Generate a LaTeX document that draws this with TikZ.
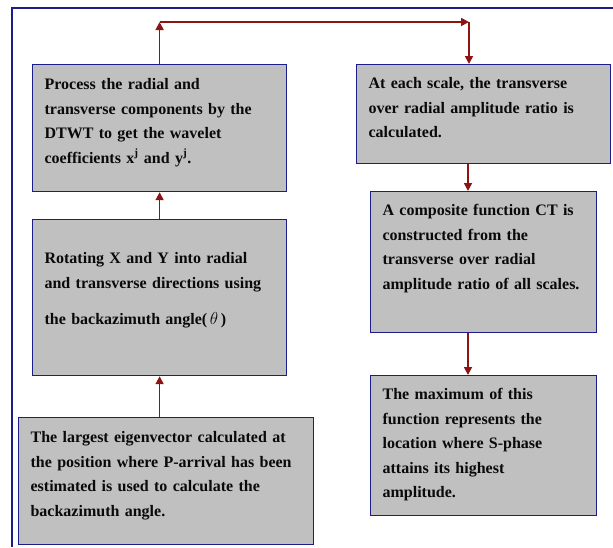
\documentclass[tikz,border=0pt]{standalone}
\usepackage{fontspec}
\setmainfont{Liberation Serif}
\usepackage{xcolor}
\usepackage{tikz}
\usetikzlibrary{arrows.meta,calc}
\definecolor{BoxGray}{HTML}{C0C0C0}
\definecolor{FrameNavy}{HTML}{1C1C8A}
\definecolor{ArrowRed}{HTML}{8E1414}
\definecolor{Ink}{HTML}{0A0A0A}
\tikzset{
  every picture/.style={line width=1.2pt},
  stagebox/.style={
    draw=FrameNavy,
    fill=BoxGray,
    rectangle,
    anchor=north west,
    align=left,
    text=Ink,
    font=\fontsize{16}{24.5}\selectfont\bfseries,
    inner xsep=12pt,
    inner ysep=0pt,
    text height=24pt
  },
  flowarrow/.style={-{Triangle[length=8pt,width=8pt]}, draw=ArrowRed, line width=1.7pt},
  framerule/.style={draw=FrameNavy, line width=1.1pt}
}

\begin{document}
\begin{tikzpicture}[x=1pt,y=-1pt]
  \useasboundingbox (0,0) rectangle (613,547);
  \draw[framerule] (613,8) -- (12,8) -- (12,547);

  \node[stagebox, text width=230pt, text height=25pt, text depth=102pt] (process) at (32,64)
    {Process the radial and\\transverse components by the\\DTWT to get the wavelet\\coefficients x\textsuperscript{j} and y\textsuperscript{j}.};
  \node[stagebox, text width=230pt, text height=44pt, text depth=112pt] (rotate) at (32,219)
    {Rotating X and Y into radial\\and transverse directions using\\[12pt]the backazimuth angle(\,{\mdseries$\theta$}\,)};
  \node[stagebox, text width=271pt, text height=25pt, text depth=102pt] (eigen) at (18,417)
    {The largest eigenvector calculated at\\the position where P-arrival has been\\estimated is used to calculate the\\backazimuth angle.};

  \node[stagebox, text width=230pt, text depth=75pt] (ratio) at (356,64)
    {At each scale, the transverse\\over radial amplitude ratio is\\calculated.};
  \node[stagebox, text width=202pt, text depth=117pt] (composite) at (370,191)
    {A composite function CT is\\constructed from the\\transverse over radial\\amplitude ratio of all scales.};
  \node[stagebox, text width=202pt, text depth=116pt] (maximum) at (370,375)
    {The maximum of this\\function represents the\\location where S-phase\\attains its highest\\amplitude.};

  \coordinate (turn) at (469,22);
  \coordinate (colx) at (468,0);

  \draw[flowarrow] (rotate.south |- eigen.north) -- (rotate.south);
  \draw[flowarrow] (rotate.north) -- (process.south);
  \draw[flowarrow] (process.north) -- (process.north |- turn);
  \draw[flowarrow] (process.north |- turn) -- (turn);
  \draw[flowarrow] (turn) -- (turn |- ratio.north);
  \draw[flowarrow] (colx |- ratio.south) -- (colx |- composite.north);
  \draw[flowarrow] (colx |- composite.south) -- (colx |- maximum.north);
\end{tikzpicture}
\end{document}
